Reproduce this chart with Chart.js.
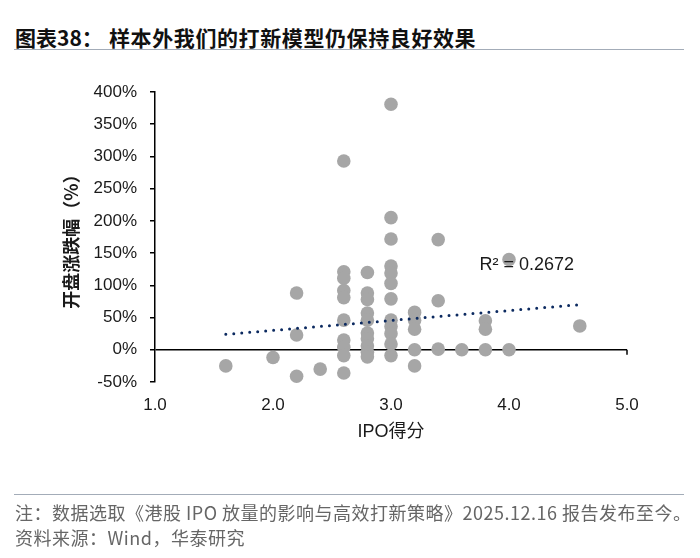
<!DOCTYPE html>
<html>
<head>
<meta charset="utf-8">
<script src="https://cdn.jsdelivr.net/npm/chart.js@4.4.1/dist/chart.umd.min.js"></script>
<style>
  html, body { margin: 0; padding: 0; background: #fff; }
  #wrap { position: relative; width: 700px; height: 558px; overflow: hidden; }
  #chart { position: absolute; left: 0; top: 0; }
  .title { position: absolute; top: 22px; font: bold 21px "Noto Sans CJK SC", sans-serif; color: #111; white-space: nowrap; }
  .rule { position: absolute; left: 14px; width: 670px; height: 0; border-top: 1.5px solid #a3acb8; }
  .note { position: absolute; left: 15px; font: 18px "Noto Sans CJK SC", sans-serif; color: #666; white-space: nowrap; letter-spacing: 0.5px; }
</style>
</head>
<body>
<div id="wrap">
  <div class="title" style="left:15px">图表38：</div>
  <div class="title" style="left:109px; letter-spacing:0.6px">样本外我们的打新模型仍保持良好效果</div>
  <div class="rule" style="top:49px"></div>
  <canvas id="chart" width="700" height="558"></canvas>
  <div class="rule" style="top:494px"></div>
  <div class="note" style="top:499px">注：数据选取《港股 IPO 放量的影响与高效打新策略》2025.12.16 报告发布至今。</div>
  <div class="note" style="top:524px">资料来源：Wind，华泰研究</div>
</div>
<script>
// IPO score and opening-day return (%)
const ipoScore = [
  1.6,
  2.0,
  2.2, 2.2, 2.2,
  2.4,
  2.6, 2.6, 2.6, 2.6, 2.6, 2.6, 2.6, 2.6, 2.6, 2.6,
  2.8, 2.8, 2.8, 2.8, 2.8, 2.8, 2.8, 2.8, 2.8, 2.8,
  3.0, 3.0, 3.0, 3.0, 3.0, 3.0, 3.0, 3.0, 3.0, 3.0, 3.0, 3.0,
  3.2, 3.2, 3.2, 3.2, 3.2,
  3.4, 3.4, 3.4,
  3.6,
  3.8, 3.8, 3.8,
  4.0, 4.0,
  4.6,
];
const openReturn = [
  -25,
  -12,
  88, 23, -41,
  -30,
  293, 121, 111, 92, 81, 46, 15, 4, -9, -36,
  120, 88, 78, 57, 46, 26, 17, 6, -4, -11,
  381, 205, 172, 130, 119, 103, 79, 46, 36, 25, 9, -9,
  58, 46, 32, 0, -25,
  171, 76, 1,
  0,
  45, 32, 0,
  140, 0,
  37,
];

// linear trend line endpoints as drawn in the reference
const trendX = [1.6, 4.6];
const trendY = [24, 70];
const rSquaredText = "R² = 0.2672";
const rSquaredPos = { x: 3.75, y: 132 };

const yTicks = [-50, 0, 50, 100, 150, 200, 250, 300, 350, 400];
const xTicks = [1.0, 2.0, 3.0, 4.0, 5.0];

const scatterPts = ipoScore.map((x, i) => ({ x, y: openReturn[i] }));
const trendPts = trendX.map((x, i) => ({ x, y: trendY[i] }));

const extras = {
  id: "extras",
  afterDatasetsDraw(chart) {
    const { ctx, scales: { x, y }, chartArea } = chart;
    ctx.save();
    // small tick at right end of zero line
    ctx.strokeStyle = "#000";
    ctx.lineWidth = 1.5;
    ctx.beginPath();
    ctx.moveTo(chartArea.right, y.getPixelForValue(0));
    ctx.lineTo(chartArea.right, y.getPixelForValue(0) + 5);
    ctx.stroke();
    // R² label
    ctx.fillStyle = "#1a1a1a";
    ctx.font = '18px "Liberation Sans", Arial, sans-serif';
    ctx.textBaseline = "middle";
    ctx.textAlign = "left";
    ctx.fillText(rSquaredText, x.getPixelForValue(rSquaredPos.x), y.getPixelForValue(rSquaredPos.y));
    ctx.restore();
  },
};

new Chart(document.getElementById("chart"), {
  type: "scatter",
  data: {
    datasets: [
      {
        type: "line",
        data: trendPts,
        order: 0,
        borderColor: "#0c2a60",
        borderWidth: 3,
        borderDash: [0, 8],
        borderCapStyle: "round",
        pointRadius: 0,
        fill: false,
      },
      {
        data: scatterPts,
        order: 1,
        clip: false,
        backgroundColor: "#a6a6a6",
        borderWidth: 0,
        pointRadius: 6.8,
        pointHoverRadius: 6.8,
      },
    ],
  },
  options: {
    responsive: false,
    animation: false,
    events: [],
    layout: { padding: { top: 92, right: 73, bottom: 0, left: 0 } },
    plugins: {
      legend: { display: false },
      tooltip: { enabled: false },
    },
    scales: {
      x: {
        type: "linear",
        min: 1,
        max: 5,
        afterBuildTicks: (s) => { s.ticks = xTicks.map((v) => ({ value: v })); },
        afterFit: (s) => { s.height = 176; },
        grid: { display: false, drawTicks: false },
        border: { display: false },
        ticks: {
          padding: 13,
          color: "#1a1a1a",
          font: { family: '"Liberation Sans", Arial, sans-serif', size: 17 },
          callback: (v) => Number(v).toFixed(1),
        },
        title: {
          display: true,
          text: "IPO得分",
          color: "#1a1a1a",
          font: { family: '"Liberation Sans", "Noto Sans CJK SC", sans-serif', size: 18 },
          padding: { top: 0, bottom: 115 },
        },
      },
      y: {
        type: "linear",
        min: -50,
        max: 400,
        afterBuildTicks: (s) => { s.ticks = yTicks.map((v) => ({ value: v })); },
        afterFit: (s) => { s.width = 155; },
        grid: {
          drawOnChartArea: true,
          color: (c) => (c.tick && c.tick.value === 0 ? "#000" : "rgba(0,0,0,0)"),
          lineWidth: 1.5,
          tickColor: "#000",
          tickLength: 5,
        },
        border: { display: true, color: "#000", width: 1.5 },
        ticks: {
          padding: 13,
          color: "#1a1a1a",
          font: { family: '"Liberation Sans", Arial, sans-serif', size: 17 },
          callback: (v) => v + "%",
        },
        title: {
          display: true,
          text: "开盘涨跌幅（%）",
          color: "#1a1a1a",
          font: { family: '"Noto Sans CJK SC", sans-serif', size: 18, weight: "bold" },
          padding: { top: 60, bottom: 0 },
        },
      },
    },
  },
  plugins: [extras],
});
</script>
</body>
</html>
